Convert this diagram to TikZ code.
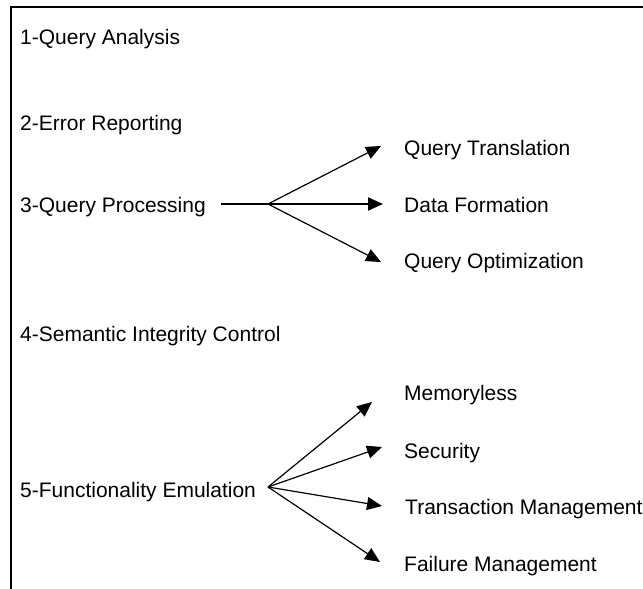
\documentclass[tikz,border=0pt]{standalone}
\usepackage{fontspec}
\setmainfont{Liberation Sans}
\usetikzlibrary{arrows.meta}

\begin{document}
\begin{tikzpicture}[x=1pt, y=-1pt,
  every node/.style={font=\fontsize{21}{25}\selectfont, inner sep=0pt, anchor=base west},
  frameline/.style={line width=2.5pt},
  stem/.style={line width=2pt},
  branch/.style={line width=1.2pt, -{Triangle[length=15pt, width=13pt]}},
  mainbranch/.style={line width=2pt, -{Triangle[length=15pt, width=13pt]}}]

\useasboundingbox (0,0) rectangle (643,589);

% open frame: top and left edges only
\coordinate (ftl) at (11,7);
\coordinate (ftr) at (650,7);
\coordinate (fbl) at (11,595);
\draw[frameline] (ftr) -- (ftl) -- (fbl);

% main list
\node (qa) at (20,44)  {1-Query Analysis};
\node (er) at (20,130) {2-Error Reporting};
\node (qp) at (20,212) {3-Query Processing};
\node (sic) at (20,341) {4-Semantic Integrity Control};
\node (fe) at (20,497) {5-Functionality Emulation};

% query processing subtasks
\node (qt) at (404,155) {Query Translation};
\node (df) at (404,212) {Data Formation};
\node (qo) at (404,268) {Query Optimization};

% functionality emulation subtasks
\node (mem) at (404,400) {Memoryless};
\node (sec) at (404,458) {Security};
\node (tm)  at (405,514) {Transaction Management};
\node (fm)  at (404,571) {Failure Management};

% branch points and arrow tips
\coordinate (b1) at (268,204);
\coordinate (tqt) at (381,146);
\coordinate (tdf) at (383,204);
\coordinate (tqo) at (381,262);

\coordinate (b2) at (268,487);
\coordinate (tmem) at (372,402);
\coordinate (tsec) at (382,447);
\coordinate (ttm)  at (382,506);
\coordinate (tfm)  at (380,562);

% query processing fan
\draw[stem, shorten <=15pt] (b1 -| qp.east) -- (b1);
\draw[branch] (b1) -- (tqt);
\draw[mainbranch] (b1) -- (tdf);
\draw[branch] (b1) -- (tqo);

% functionality emulation fan
\draw[branch] (b2) -- (tmem);
\draw[branch] (b2) -- (tsec);
\draw[branch] (b2) -- (ttm);
\draw[branch] (b2) -- (tfm);

\end{tikzpicture}
\end{document}
